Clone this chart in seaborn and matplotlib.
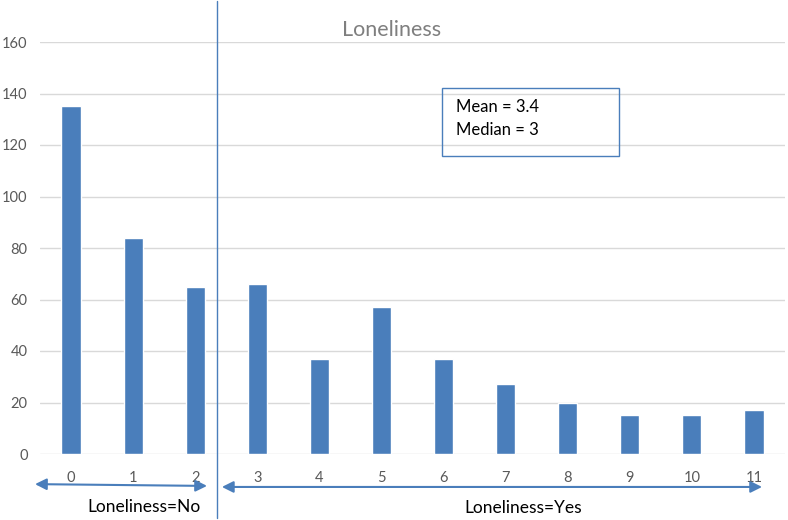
import seaborn as sns
import matplotlib.pyplot as plt
from matplotlib.patches import Rectangle

sns.set_style("white")
plt.rcParams['font.family'] = ['Lato', 'DejaVu Sans']

scores = [str(i) for i in range(12)]
counts = [135, 84, 65, 66, 37, 57, 37, 27, 20, 15, 15, 17]
y_ticks = [0, 20, 40, 60, 80, 100, 120, 140, 160]

bar_color = "#4a7ebb"
grid_color = "#d9d9d9"
label_color = "#595959"

fig = plt.figure(figsize=(7.88, 5.2), dpi=100)
ax = fig.add_axes([40 / 788, 66 / 520, 745 / 788, 412 / 520])

sns.barplot(x=scores, y=counts, order=scores, color=bar_color,
            width=0.31, saturation=1, ax=ax)

ax.set_xlim(-0.5, 11.5)
ax.set_ylim(0, 160)
ax.set_yticks(y_ticks)
ax.yaxis.grid(True, color=grid_color, lw=1)
ax.set_axisbelow(True)
for s in ax.spines.values():
    s.set_visible(False)
ax.tick_params(axis='both', length=0, labelsize=10.5, labelcolor=label_color)
ax.tick_params(axis='x', pad=12)
ax.tick_params(axis='y', pad=9)
ax.set_xlabel("")
ax.set_ylabel("")

# divider between No / Yes
ax.axvline(2.35, ymin=-0.155, ymax=1.1, color=bar_color, lw=1, clip_on=False)

# title
ax.text(5.17, 164.5, "Loneliness", ha='center', va='center', fontsize=15.5,
        color="#7f7f7f")

# stats box
ax.add_patch(Rectangle((5.97, 115.7), 2.85, 26.4, fill=False,
                       edgecolor=bar_color, lw=1))
ax.text(6.2, 134.8, "Mean = 3.4", va='center', fontsize=12, color="black")
ax.text(6.2, 125.8, "Median = 3", va='center', fontsize=12, color="black")

# group arrows
arrow = dict(arrowstyle='<|-|>', color=bar_color, lw=1.5,
             mutation_scale=17, shrinkA=0, shrinkB=0)
ax.annotate("", xy=(-0.58, -11.7), xytext=(2.19, -12.4),
            arrowprops=arrow, annotation_clip=False)
ax.annotate("", xy=(2.43, -12.8), xytext=(11.13, -12.8),
            arrowprops=arrow, annotation_clip=False)
ax.text(1.18, -20.6, "Loneliness=No", ha='center', va='center', fontsize=12.5,
        color="black")
ax.text(7.28, -21, "Loneliness=Yes", ha='center', va='center', fontsize=12.5,
        color="black")

fig.savefig("out.png", dpi=100)
